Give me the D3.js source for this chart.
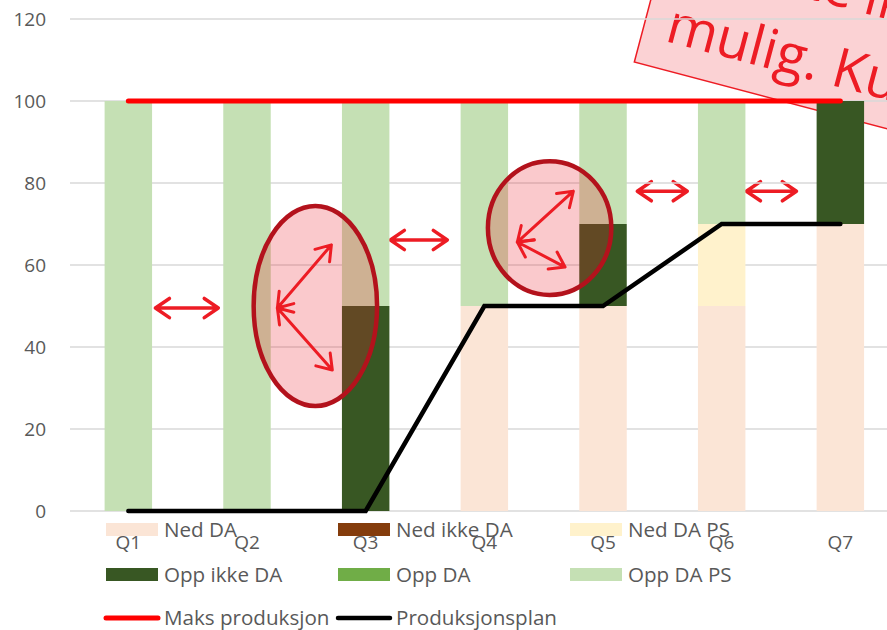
<!DOCTYPE html>
<html>
<head>
<meta charset="utf-8">
<style>
    body { margin: 0; background: #fff; }
    svg { display: block; font-family: "Open Sans", sans-serif; }
    .tick-label { fill: #595959; font-size: 19px; }
    .legend-label { fill: #595959; font-size: 20.6px; }
</style>
</head>
<body>
<svg width="887" height="630"></svg>

<script src="https://d3js.org/d3.v7.min.js"></script>
<script>
    // categories and series
    let quarters = ["Q1", "Q2", "Q3", "Q4", "Q5", "Q6", "Q7"]
    let nedDA = [0, 0, 0, 50, 50, 50, 70]
    let nedIkkeDA = [0, 0, 0, 0, 0, 0, 0]
    let nedDAPS = [0, 0, 0, 0, 0, 20, 0]
    let oppIkkeDA = [0, 0, 50, 0, 20, 0, 30]
    let oppDA = [0, 0, 0, 0, 0, 0, 0]
    let oppDAPS = [100, 100, 50, 50, 30, 30, 0]
    let maksProduksjon = [100, 100, 100, 100, 100, 100, 100]
    let produksjonsplan = [0, 0, 0, 50, 50, 70, 70]
    let yTicks = [0, 20, 40, 60, 80, 100, 120]

    let seriesNames = ["Ned DA", "Ned ikke DA", "Ned DA PS", "Opp ikke DA", "Opp DA", "Opp DA PS"]
    let seriesValues = [nedDA, nedIkkeDA, nedDAPS, oppIkkeDA, oppDA, oppDAPS]
    let seriesColors = ["#FBE5D6", "#843C0C", "#FFF2CC", "#385723", "#70AD47", "#C5E0B4"]

    // annotations, in (category index, value) units
    let ellipses = [
        { cx: 1.576, cy: 50, rx: 0.52, ry: 24.4 },
        { cx: 3.55, cy: 69, rx: 0.52, ry: 16.3 }
    ]
    let innerArrows = [
        [[1.256, 49.5], [1.711, 64.9]],
        [[1.256, 49.5], [1.719, 34.4]],
        [[3.278, 65.6], [3.75, 78]],
        [[3.278, 65.6], [3.68, 59.5]]
    ]
    let sideArrows = [
        [[0.228, 49.5], [0.758, 49.5]],
        [[2.208, 66.1], [2.688, 66.1]],
        [[4.289, 78], [4.71, 78]],
        [[5.208, 78], [5.63, 78]]
    ]
    let stampAnchor = [4.264, 109.5]
    let stampLines = ["Flytte", "ikke", "mulig. Kun"]

    let svg = d3.select("svg")

    let x = d3.scaleBand()
        .domain(quarters)
        .range([69, 69 + 7 * 118.67])
        .paddingInner(0.6)
        .paddingOuter(0.3)

    let y = d3.scaleLinear()
        .domain([0, 120])
        .range([511, 19])

    let xc = d3.scaleLinear()
        .domain([0, 6])
        .range([x("Q1") + x.bandwidth() / 2, x("Q7") + x.bandwidth() / 2])

    // stamp (drawn behind everything)
    let sx = xc(stampAnchor[0]), sy = y(stampAnchor[1])
    let stamp = svg.append("g")
        .attr("transform", "translate(" + sx + "," + sy + ") rotate(14.8)")
    stamp.append("rect")
        .attr("x", 0).attr("y", -320)
        .attr("width", 420).attr("height", 320)
        .style("fill", "rgba(236,30,40,0.2)")
        .style("stroke", "#ED1C24")
        .style("stroke-width", 1.5)
    stamp.append("text")
        .attr("x", 195).attr("y", -106)
        .attr("text-anchor", "end")
        .style("font-size", "55px").style("fill", "#ED1C24")
        .text(stampLines[0])
    stamp.append("text")
        .attr("x", 207).attr("y", -106)
        .style("font-size", "55px").style("fill", "#ED1C24")
        .text(stampLines[1])
    stamp.append("text")
        .attr("x", 23).attr("y", -28)
        .style("font-size", "55px").style("fill", "#ED1C24")
        .text(stampLines[2])

    function arrowPath(p0, p1) {
        let x0 = xc(p0[0]), y0 = y(p0[1]), x1 = xc(p1[0]), y1 = y(p1[1])
        let a = Math.atan2(y1 - y0, x1 - x0)
        let L = 17, t = 0.6
        let head = (px, py, ang) =>
            "M" + (px + L * Math.cos(ang + t)) + "," + (py + L * Math.sin(ang + t)) +
            "L" + px + "," + py +
            "L" + (px + L * Math.cos(ang - t)) + "," + (py + L * Math.sin(ang - t))
        return "M" + x0 + "," + y0 + "L" + x1 + "," + y1 +
            head(x0, y0, a) + head(x1, y1, a + Math.PI)
    }

    // arrows between bars sit under the gridlines
    svg.append("g")
        .selectAll("path")
        .data(sideArrows)
        .join("path")
        .attr("d", d => arrowPath(d[0], d[1]))
        .style("fill", "none")
        .style("stroke", "#ED1C24")
        .style("stroke-width", 3.5)
        .style("stroke-linejoin", "round")
        .style("stroke-linecap", "round")

    // gridlines
    svg.append("g")
        .selectAll("line")
        .data(yTicks)
        .join("line")
        .attr("x1", 70).attr("x2", 887)
        .attr("y1", d => y(d)).attr("y2", d => y(d))
        .style("stroke", "#D9D9D9")
        .style("stroke-width", 1.3)

    // stacked bars
    let table = quarters.map((q, i) => {
        let row = { q: q }
        seriesNames.forEach((s, j) => row[s] = seriesValues[j][i])
        return row
    })
    let stacked = d3.stack().keys(seriesNames)(table)

    svg.append("g")
        .selectAll("g")
        .data(stacked)
        .join("g")
        .style("fill", (d, i) => seriesColors[i])
        .selectAll("rect")
        .data(d => d)
        .join("rect")
        .attr("x", d => x(d.data.q))
        .attr("width", x.bandwidth())
        .attr("y", d => y(d[1]))
        .attr("height", d => y(d[0]) - y(d[1]))

    // lines
    let line = d3.line()
        .x((d, i) => xc(i))
        .y(d => y(d))

    svg.append("path")
        .datum(maksProduksjon)
        .attr("d", line)
        .style("fill", "none")
        .style("stroke", "#FF0000")
        .style("stroke-width", 5)
        .style("stroke-linecap", "round")

    svg.append("path")
        .datum(produksjonsplan)
        .attr("d", line)
        .style("fill", "none")
        .style("stroke", "#000")
        .style("stroke-width", 4.5)
        .style("stroke-linecap", "round")

    // ellipses with arrows
    svg.append("g")
        .selectAll("ellipse")
        .data(ellipses)
        .join("ellipse")
        .attr("cx", d => xc(d.cx))
        .attr("cy", d => y(d.cy))
        .attr("rx", d => xc(d.rx) - xc(0))
        .attr("ry", d => y(0) - y(d.ry))
        .style("fill", "rgba(236,30,40,0.24)")
        .style("stroke", "#B3121C")
        .style("stroke-width", 4.5)

    svg.append("g")
        .selectAll("path")
        .data(innerArrows)
        .join("path")
        .attr("d", d => arrowPath(d[0], d[1]))
        .style("fill", "none")
        .style("stroke", "#ED1C24")
        .style("stroke-width", 3)
        .style("stroke-linejoin", "round")
        .style("stroke-linecap", "round")

    // axis labels
    svg.append("g")
        .selectAll("text")
        .data(yTicks)
        .join("text")
        .attr("class", "tick-label")
        .attr("x", 46)
        .attr("y", d => y(d))
        .attr("dy", "0.36em")
        .attr("text-anchor", "end")
        .text(d => d)

    svg.append("g")
        .selectAll("text")
        .data(quarters)
        .join("text")
        .attr("class", "tick-label")
        .attr("x", d => x(d) + x.bandwidth() / 2)
        .attr("y", 549)
        .attr("text-anchor", "middle")
        .text(d => d)

    // legend
    let legendX = [106, 338, 570]
    let legendY = [523, 568]
    let legend = svg.append("g")
    seriesNames.forEach((s, i) => {
        let lx = legendX[i % 3], ly = legendY[Math.floor(i / 3)]
        legend.append("rect")
            .attr("x", lx).attr("y", ly)
            .attr("width", 52).attr("height", 13)
            .style("fill", seriesColors[i])
        legend.append("text")
            .attr("class", "legend-label")
            .attr("x", lx + 58).attr("y", ly + 13.5)
            .text(s)
    })
    let lineLegend = [
        { name: "Maks produksjon", color: "#FF0000", w: 5 },
        { name: "Produksjonsplan", color: "#000", w: 4.5 }
    ]
    lineLegend.forEach((d, i) => {
        let lx = legendX[i] - 1
        legend.append("line")
            .attr("x1", lx + 1).attr("x2", lx + 53)
            .attr("y1", 618).attr("y2", 618)
            .style("stroke", d.color)
            .style("stroke-width", d.w)
            .style("stroke-linecap", "round")
        legend.append("text")
            .attr("class", "legend-label")
            .attr("x", lx + 59).attr("y", 625)
            .text(d.name)
    })
</script>
</body>
</html>
